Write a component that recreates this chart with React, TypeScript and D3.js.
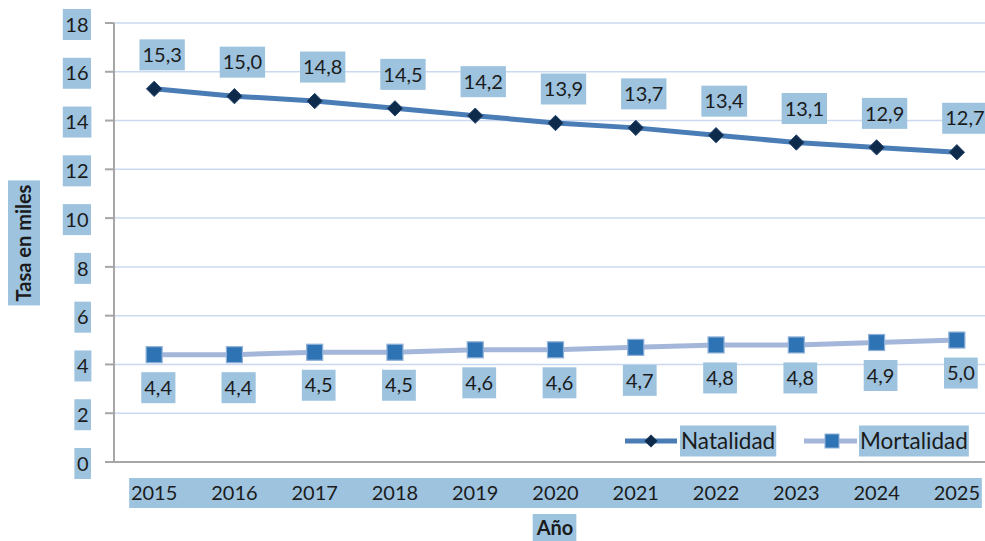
import React, { useEffect, useRef } from "react";
import * as d3 from "d3";

const years = ["2015", "2016", "2017", "2018", "2019", "2020", "2021", "2022", "2023", "2024", "2025"];
const natalidad = [15.3, 15.0, 14.8, 14.5, 14.2, 13.9, 13.7, 13.4, 13.1, 12.9, 12.7];
const mortalidad = [4.4, 4.4, 4.5, 4.5, 4.6, 4.6, 4.7, 4.8, 4.8, 4.9, 5.0];
const yTicks = [0, 2, 4, 6, 8, 10, 12, 14, 16, 18];
const seriesNames = ["Natalidad", "Mortalidad"];
const yTitle = "Tasa en miles";
const xTitle = "Año";

const W = 985;
const H = 541;
const FONT = "Lato, 'Open Sans', sans-serif";
const BOX = "#9dc3df";
const TXT = "#1b1b1b";
const NAT_LINE = "#4a7cb6";
const NAT_MARK = "#0e2b4c";
const MOR_LINE = "#a4b7da";
const MOR_MARK = "#2e74b5";

const fmt = (v: number) => v.toFixed(1).replace(".", ",");

export default function App() {
  const ref = useRef<SVGSVGElement>(null);

  useEffect(() => {
    const svg = d3.select(ref.current as SVGSVGElement);
    svg.selectAll("*").remove();

    const left = 114;
    const x = d3.scalePoint<string>().domain(years).range([left, 997]).padding(0.5);
    const y = d3.scaleLinear().domain([0, 18]).range([462, 23]);

    svg.append("rect").attr("width", W).attr("height", H).attr("fill", "#ffffff");

    const boxed = (
      parent: any,
      text: string,
      px: number,
      py: number,
      o: { anchor?: string; size?: number; weight?: string; padX?: number; h?: number; rotate?: boolean }
    ) => {
      const g = parent.append("g").attr("transform", `translate(${px},${py})${o.rotate ? " rotate(-90)" : ""}`);
      const rect = g.append("rect").attr("fill", BOX);
      const t = g
        .append("text")
        .attr("x", 0)
        .attr("y", 0)
        .attr("dy", "0.36em")
        .attr("text-anchor", o.anchor || "middle")
        .attr("font-family", FONT)
        .attr("font-size", o.size || 20)
        .attr("font-weight", o.weight || "normal")
        .attr("fill", TXT)
        .text(text);
      const bb = (t.node() as SVGTextElement).getBBox();
      const padX = o.padX ?? 3;
      const h = o.h ?? 31;
      rect
        .attr("x", bb.x - padX)
        .attr("width", bb.width + 2 * padX)
        .attr("y", -h / 2)
        .attr("height", h);
      return g;
    };

    // gridlines
    svg
      .append("g")
      .selectAll("line")
      .data(yTicks.filter((t) => t > 0))
      .join("line")
      .attr("x1", left)
      .attr("x2", W)
      .attr("y1", (d) => y(d))
      .attr("y2", (d) => y(d))
      .attr("stroke", "#cad9ef")
      .attr("stroke-width", 1.5);

    // y axis
    svg
      .append("line")
      .attr("x1", left)
      .attr("x2", left)
      .attr("y1", y(18))
      .attr("y2", y(0))
      .attr("stroke", "#a6a6a6")
      .attr("stroke-width", 2);
    svg
      .append("g")
      .selectAll("line")
      .data(yTicks)
      .join("line")
      .attr("x1", 105)
      .attr("x2", left)
      .attr("y1", (d) => y(d))
      .attr("y2", (d) => y(d))
      .attr("stroke", "#a6a6a6")
      .attr("stroke-width", 2);
    // x axis
    svg
      .append("line")
      .attr("x1", 105)
      .attr("x2", W)
      .attr("y1", y(0))
      .attr("y2", y(0))
      .attr("stroke", "#a6a6a6")
      .attr("stroke-width", 2);

    // y tick labels
    const yl = svg.append("g");
    yTicks.forEach((t) => boxed(yl, String(t), 88.5, y(t) + 1.5, { anchor: "end", padX: 2.5 }));

    // x tick label band
    const xs = years.map((d) => x(d) as number);
    svg
      .append("rect")
      .attr("x", xs[0] - 25)
      .attr("width", xs[xs.length - 1] + 25 - (xs[0] - 25))
      .attr("y", 478)
      .attr("height", 30)
      .attr("fill", BOX);
    svg
      .append("g")
      .selectAll("text")
      .data(years)
      .join("text")
      .attr("x", (d) => x(d) as number)
      .attr("y", 493)
      .attr("dy", "0.36em")
      .attr("text-anchor", "middle")
      .attr("font-family", FONT)
      .attr("font-size", 20)
      .attr("fill", TXT)
      .text((d) => d);

    // axis titles
    boxed(svg, xTitle, 555, 528, { size: 20, weight: "bold", padX: 3, h: 28 });
    boxed(svg, yTitle, 24, 243, { size: 20, weight: "bold", padX: 4, h: 32, rotate: true });

    // lines
    const lineGen = (vals: number[]) =>
      d3
        .line<number>()
        .x((_, i) => x(years[i]) as number)
        .y((v) => y(v))(vals);

    svg
      .append("path")
      .attr("d", lineGen(mortalidad))
      .attr("fill", "none")
      .attr("stroke", MOR_LINE)
      .attr("stroke-width", 5);
    svg
      .append("path")
      .attr("d", lineGen(natalidad))
      .attr("fill", "none")
      .attr("stroke", NAT_LINE)
      .attr("stroke-width", 5);

    const diamond = d3.symbol().type(d3.symbolDiamond2).size(150);

    svg
      .append("g")
      .selectAll("path")
      .data(natalidad)
      .join("path")
      .attr("d", diamond() as string)
      .attr("transform", (v, i) => `translate(${x(years[i])},${y(v)})`)
      .attr("fill", NAT_MARK)
      .attr("stroke", "#24466e")
      .attr("stroke-width", 1);

    svg
      .append("g")
      .selectAll("rect")
      .data(mortalidad)
      .join("rect")
      .attr("x", (_, i) => (x(years[i]) as number) - 8)
      .attr("y", (v) => y(v) - 8)
      .attr("width", 16)
      .attr("height", 16)
      .attr("fill", MOR_MARK)
      .attr("stroke", "#8fb0d8")
      .attr("stroke-width", 1.2);

    // data labels
    const dl = svg.append("g");
    natalidad.forEach((v, i) => boxed(dl, fmt(v), (x(years[i]) as number) + 8, y(v) - 34, { padX: 3 }));
    mortalidad.forEach((v, i) => boxed(dl, fmt(v), (x(years[i]) as number) + 4, y(v) + 33, { padX: 3 }));

    // legend
    const lg = svg.append("g");
    const ly = 441;
    lg.append("line").attr("x1", 625).attr("x2", 677).attr("y1", ly).attr("y2", ly).attr("stroke", NAT_LINE).attr("stroke-width", 5);
    lg.append("path")
      .attr("d", d3.symbol().type(d3.symbolDiamond2).size(110)() as string)
      .attr("transform", `translate(651,${ly})`)
      .attr("fill", NAT_MARK);
    boxed(lg, seriesNames[0], 681, ly, { anchor: "start", size: 22.5, padX: 1 });

    lg.append("line").attr("x1", 804).attr("x2", 857).attr("y1", ly).attr("y2", ly).attr("stroke", MOR_LINE).attr("stroke-width", 5);
    lg.append("rect")
      .attr("x", 832 - 7)
      .attr("y", ly - 7)
      .attr("width", 14)
      .attr("height", 14)
      .attr("fill", MOR_MARK)
      .attr("stroke", "#8fb0d8")
      .attr("stroke-width", 1);
    boxed(lg, seriesNames[1], 860, ly, { anchor: "start", size: 22.5, padX: 1 });
  }, []);

  return (
    <svg
      ref={ref}
      width={W}
      height={H}
      style={{ position: "absolute", left: 0, top: 0, display: "block" }}
    />
  );
}
